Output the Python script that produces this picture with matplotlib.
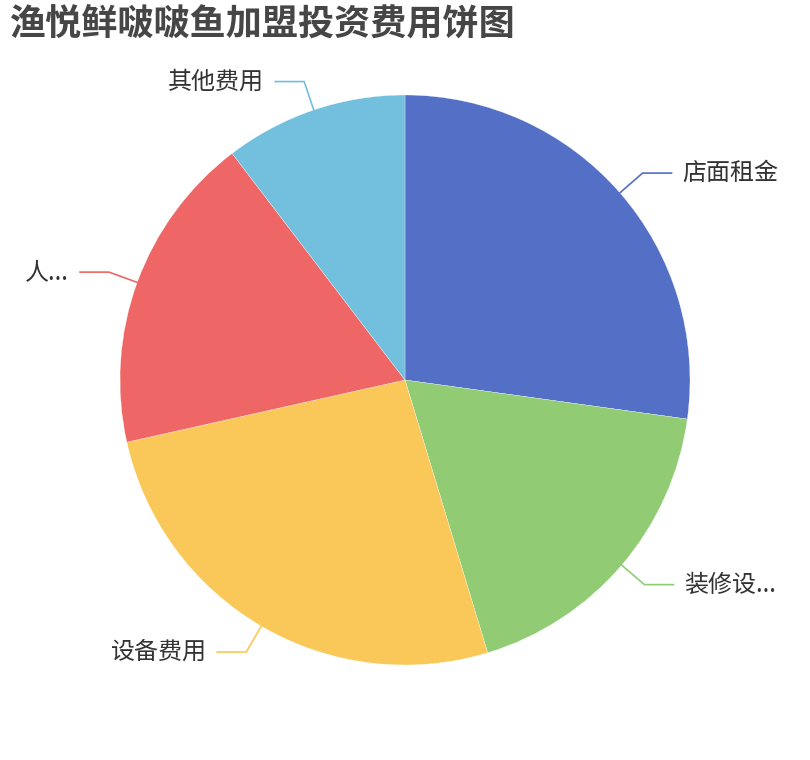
import numpy as np
import matplotlib.pyplot as plt

plt.rcParams['font.family'] = ['Noto Sans CJK SC', 'DejaVu Sans']

# 数据
categories = ['店面租金', '装修设...', '设备费用', '人...', '其他费用']
values = [27, 18, 26, 18, 10.3]
colors = ['#5470c6', '#91cc75', '#fac858', '#ee6666', '#73c0de']
title = '渔悦鲜啵啵鱼加盟投资费用饼图'

W, H = 810, 760
fig = plt.figure(figsize=(W / 100, H / 100), dpi=100)
ax = fig.add_axes([0, 0, 1, 1])

cx, cy, r = 405, H - 380, 285
wedges, _ = ax.pie(values, colors=colors, startangle=90, counterclock=False,
                   center=(cx, cy), radius=r, frame=True,
                   wedgeprops=dict(linewidth=0.2, edgecolor='white'))

# 引导线 + 标签
len1, len2, gap = 30, 29, 11
for w, name, c in zip(wedges, categories, colors):
    mid = np.deg2rad((w.theta1 + w.theta2) / 2)
    x0, y0 = cx + r * np.cos(mid), cy + r * np.sin(mid)
    x1, y1 = cx + (r + len1) * np.cos(mid), cy + (r + len1) * np.sin(mid)
    side = 1 if np.cos(mid) >= 0 else -1
    x2 = x1 + side * len2
    ax.plot([x0, x1, x2], [y0, y1, y1], color=c, lw=1.2, solid_joinstyle='miter')
    ax.text(x2 + side * gap, y1, name, fontsize=17.3, color='#333333',
            ha='left' if side > 0 else 'right', va='center')

ax.text(9, H - 25, title, fontsize=26, fontweight='bold', color='#464646',
        ha='left', va='center')

ax.set_xlim(0, W)
ax.set_ylim(0, H)
ax.set_aspect('auto')
ax.axis('off')

plt.savefig('out.png', dpi=100)
